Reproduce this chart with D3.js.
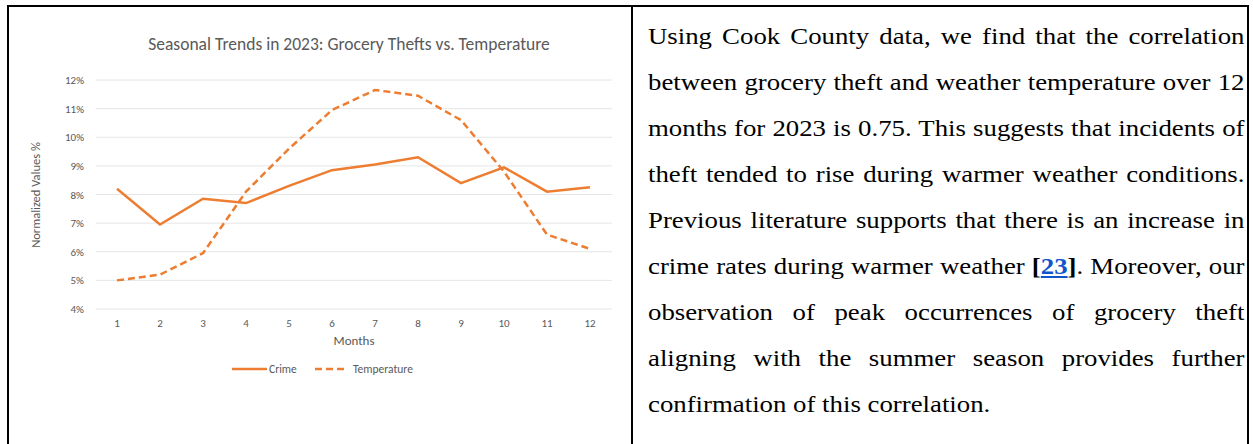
<!DOCTYPE html>
<html><head><meta charset="utf-8">
<script src="https://cdn.jsdelivr.net/npm/d3@7"></script>
<style>
body{margin:0;background:#fff;}
#frame{position:absolute;left:7px;top:5px;width:1242px;height:460px;border:2px solid #000;box-sizing:border-box;}
#divider{position:absolute;left:631px;top:5px;width:2px;height:460px;background:#000;}
#chart{position:absolute;left:0;top:0;}
#text{position:absolute;left:648px;top:16px;width:512px;font-family:"Liberation Serif",serif;font-size:23px;color:#000;transform:scaleX(1.165);transform-origin:0 0;}
#text div{height:46px;line-height:42px;text-align:justify;text-align-last:justify;white-space:nowrap;}
#text div.last{text-align-last:left;}
#text a{color:#1155cc;font-weight:bold;text-decoration:underline;}
</style></head><body>
<div id="frame"></div><div id="divider"></div>
<svg id="chart" width="630" height="444"></svg>
<div id="text"></div>
<script>
const months = [1,2,3,4,5,6,7,8,9,10,11,12];
const crime = [8.2,6.95,7.85,7.7,8.3,8.85,9.05,9.3,8.4,8.95,8.1,8.25];
const temperature = [5.0,5.2,5.95,8.1,9.6,10.95,11.65,11.45,10.6,8.8,6.6,6.1];
const yTicks = [4,5,6,7,8,9,10,11,12];
const textLines = [
  "Using Cook County data, we find that the correlation",
  "between grocery theft and weather temperature over 12",
  "months for 2023 is 0.75. This suggests that incidents of",
  "theft tended to rise during warmer weather conditions.",
  "Previous literature supports that there is an increase in",
  "crime rates during warmer weather <b>[<a>23</a>]</b>. Moreover, our",
  "observation of peak occurrences of grocery theft",
  "aligning with the summer season provides further",
  "confirmation of this correlation."
];

const svg = d3.select("#chart");
const font = "Calibri, Carlito, 'Open Sans', sans-serif";
const col = "#ed7d31";
const grey = "#595959";
const x = d3.scalePoint().domain(months).range([117, 590]);
const y = d3.scaleLinear().domain([4,12]).range([309, 80]);

svg.append("text").attr("x", 349).attr("y", 50).attr("text-anchor","middle")
  .attr("font-family", font).attr("font-size", 17.5).attr("fill", grey)
  .text("Seasonal Trends in 2023: Grocery Thefts vs. Temperature");

// grid lines
svg.append("g").selectAll("line").data(yTicks).join("line")
  .attr("x1", 96).attr("x2", 612)
  .attr("y1", d => y(d)).attr("y2", d => y(d))
  .attr("stroke", "#e6e6e6");

svg.append("g").selectAll("text").data(yTicks).join("text")
  .attr("x", 84).attr("y", d => y(d) + 4).attr("text-anchor","end")
  .attr("font-family", font).attr("font-size", 11).attr("fill", grey)
  .text(d => d + "%");

svg.append("g").selectAll("text").data(months).join("text")
  .attr("x", d => x(d)).attr("y", 327).attr("text-anchor","middle")
  .attr("font-family", font).attr("font-size", 11).attr("fill", grey)
  .text(d => d);

svg.append("text").attr("x", 354).attr("y", 345).attr("text-anchor","middle")
  .attr("font-family", font).attr("font-size", 13).attr("fill", grey).text("Months");

svg.append("text").attr("transform","translate(40,195) rotate(-90)").attr("text-anchor","middle")
  .attr("font-family", font).attr("font-size", 12.5).attr("fill", grey).text("Normalized Values %");

const line = d3.line().x((d,i) => x(months[i])).y(d => y(d));
svg.append("path").datum(crime).attr("d", line).attr("fill","none")
  .attr("stroke", col).attr("stroke-width", 2.5);
svg.append("path").datum(temperature).attr("d", line).attr("fill","none")
  .attr("stroke", col).attr("stroke-width", 2.5).attr("stroke-dasharray","7,4");

// legend
svg.append("line").attr("x1",232).attr("x2",267).attr("y1",369).attr("y2",369)
  .attr("stroke",col).attr("stroke-width",2.5);
svg.append("text").attr("x",269).attr("y",373).attr("font-family",font)
  .attr("font-size",11.5).attr("fill", grey).text("Crime");
svg.append("line").attr("x1",315).attr("x2",347).attr("y1",369).attr("y2",369)
  .attr("stroke",col).attr("stroke-width",2.5).attr("stroke-dasharray","7,4");
svg.append("text").attr("x",353).attr("y",373).attr("font-family",font)
  .attr("font-size",11.5).attr("fill", grey).text("Temperature");

d3.select("#text").selectAll("div").data(textLines).join("div")
  .classed("last", (d,i) => i === textLines.length - 1)
  .html(d => d);
</script>
</body></html>
